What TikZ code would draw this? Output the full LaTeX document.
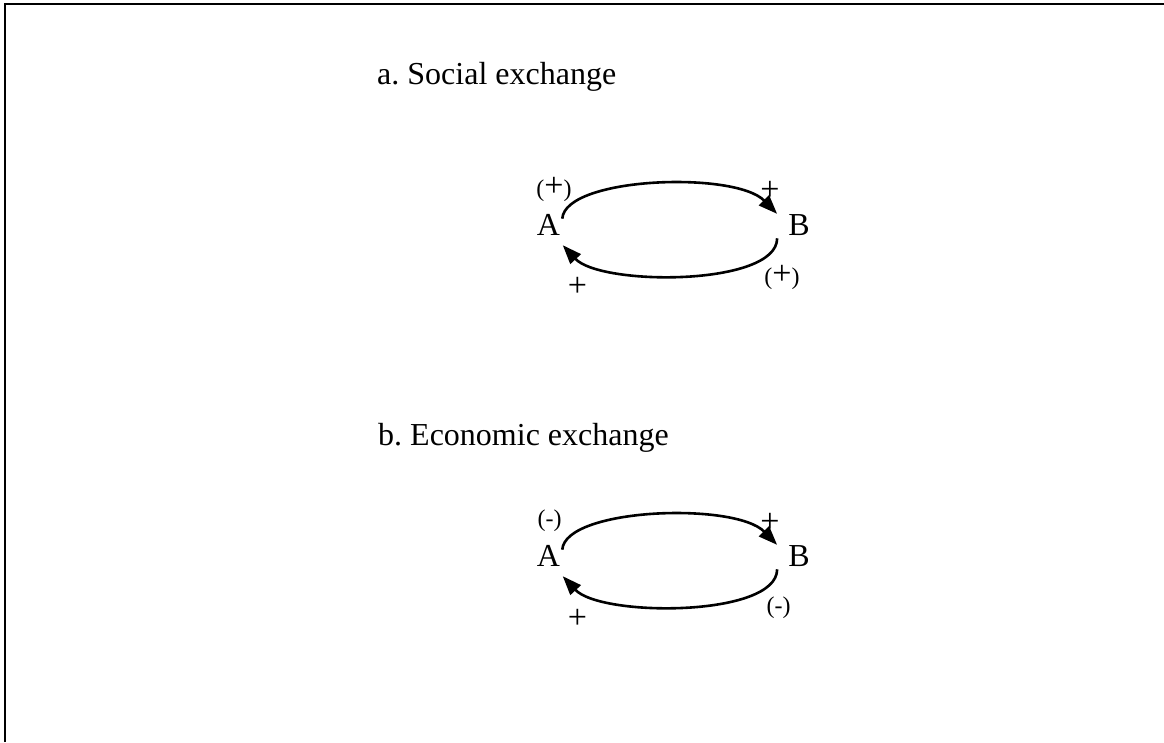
\documentclass[tikz,border=0pt]{standalone}
\usepackage{fontspec}
\setmainfont{Liberation Serif}
\usetikzlibrary{arrows.meta}
\newcommand{\bp}{{\fontsize{34}{36}\selectfont +}}
\begin{document}
\frenchspacing
\begin{tikzpicture}[x=1pt,y=-1pt,
  title/.style={anchor=base west,inner sep=0pt,font=\fontsize{32}{36}\selectfont},
  agent/.style={anchor=base,inner sep=0pt,font=\fontsize{32}{36}\selectfont},
  sign/.style={inner sep=0pt,font=\fontsize{24}{30}\selectfont},
  link/.style={line width=2.6pt,-{Triangle[length=19pt,width=14pt]}},
  frame/.style={line width=2.3pt,line join=miter}]
\useasboundingbox (0,0) rectangle (1164,742);
\draw[frame] (5.3,742) -- (5.3,4.3) -- (1164,4.3);
% a. Social exchange
\node[title] (ta) at (377,84) {a. Social exchange};
\node[agent] (A1) at (548.5,235) {A};
\node[agent] (B1) at (799,235) {B};
\node[sign] (s1) at (554,189) {(\bp)};
\node[sign] (s2) at (770,190.5) {\bp};
\node[sign] (s3) at (782,277) {(\bp)};
\node[sign] (s4) at (577.5,286.5) {\bp};
\draw[link] ([xshift=2pt,yshift=-5pt]A1.north east) .. controls +(3,-42) and +(-42,-43) .. ([xshift=-11pt]B1.north west);
\draw[link] ([xshift=-11pt,yshift=-3pt]B1.south west) .. controls +(0,48) and +(38,41) .. ([xshift=2.5pt,yshift=-10pt]A1.south east);
% b. Economic exchange
\node[title] (tb) at (378,445) {b. Economic exchange};
\node[agent] (A2) at (548.5,566) {A};
\node[agent] (B2) at (799,566) {B};
\node[sign] (t1) at (549.5,521) {(-)};
\node[sign] (t2) at (770,522.5) {\bp};
\node[sign] (t3) at (778.5,607.5) {(-)};
\node[sign] (t4) at (577.5,619) {\bp};
\draw[link] ([xshift=2pt,yshift=-5pt]A2.north east) .. controls +(3,-42) and +(-42,-43) .. ([xshift=-11pt]B2.north west);
\draw[link] ([xshift=-11pt,yshift=-3pt]B2.south west) .. controls +(0,48) and +(38,41) .. ([xshift=2.5pt,yshift=-10pt]A2.south east);
\end{tikzpicture}
\end{document}
